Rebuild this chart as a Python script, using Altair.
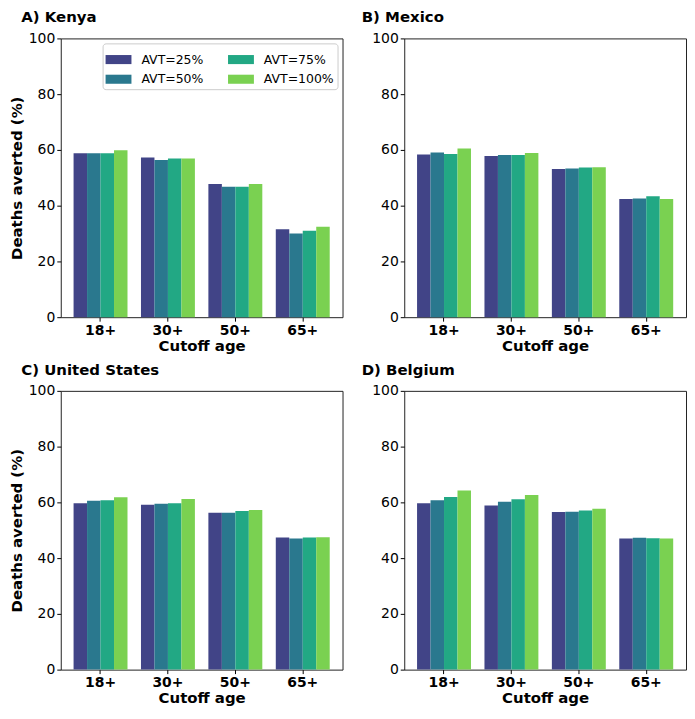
import altair as alt
import pandas as pd

countries = ["A) Kenya", "B) Mexico", "C) United States", "D) Belgium"]
ages = ["18+", "30+", "50+", "65+"]
avts = ["AVT=25%", "AVT=50%", "AVT=75%", "AVT=100%"]
colors = ["#414487", "#2a788e", "#22a884", "#7ad151"]

# values[country][avt] -> list over ages
kenya = {
    "AVT=25%": [58.8, 57.3, 47.8, 31.5],
    "AVT=50%": [58.8, 56.4, 46.8, 30.0],
    "AVT=75%": [58.8, 56.9, 46.8, 31.0],
    "AVT=100%": [59.9, 56.9, 47.8, 32.4],
}
mexico = {
    "AVT=25%": [58.4, 57.8, 53.2, 42.4],
    "AVT=50%": [59.1, 58.2, 53.3, 42.6],
    "AVT=75%": [58.5, 58.2, 53.7, 43.4],
    "AVT=100%": [60.5, 58.9, 53.8, 42.4],
}
usa = {
    "AVT=25%": [59.7, 59.1, 56.3, 47.4],
    "AVT=50%": [60.6, 59.5, 56.3, 47.0],
    "AVT=75%": [60.8, 59.7, 56.9, 47.4],
    "AVT=100%": [61.8, 61.2, 57.3, 47.5],
}
belgium = {
    "AVT=25%": [59.7, 58.9, 56.5, 47.0],
    "AVT=50%": [60.8, 60.2, 56.6, 47.3],
    "AVT=75%": [61.9, 61.1, 57.1, 47.1],
    "AVT=100%": [64.3, 62.6, 57.7, 47.0],
}
all_values = [kenya, mexico, usa, belgium]

FONT = "DejaVu Sans"
W, H = 283, 280


def panel(idx):
    vals = all_values[idx]
    rows = []
    for a in avts:
        for i, g in enumerate(ages):
            rows.append({"age": g, "avt": a, "value": vals[a][i]})
    df = pd.DataFrame(rows)
    left = idx % 2 == 0
    if idx == 0:
        legend = alt.Legend(
            title=None, orient="top-right", offset=5, columns=2,
            symbolType="M-1,-0.35H1V0.35H-1Z", symbolSize=676,
            symbolStrokeWidth=0, symbolOpacity=1,
            labelFont=FONT, labelFontSize=12.5, labelColor="#000",
            columnPadding=24, rowPadding=0, labelOffset=10,
            padding=3, strokeColor="#cccccc", fillColor="white",
            cornerRadius=3,
        )
    else:
        legend = None
    chart = alt.Chart(df).mark_bar().encode(
        x=alt.X("age:N", sort=ages,
                scale=alt.Scale(paddingInner=0.2, paddingOuter=0.19),
                axis=alt.Axis(title="Cutoff age", labelAngle=0,
                              labelFontWeight="bold", labelFontSize=14,
                              labelFont=FONT, labelColor="#000",
                              titleFont=FONT, titleFontSize=15,
                              titleFontWeight="bold", titleColor="#000",
                              titlePadding=1, tickSize=4, tickColor="#000",
                              domain=False, labelPadding=2)),
        xOffset=alt.XOffset("avt:N", sort=avts),
        y=alt.Y("value:Q", scale=alt.Scale(domain=[0, 100], nice=False),
                axis=alt.Axis(title="Deaths averted (%)" if left else None,
                              values=[0, 20, 40, 60, 80, 100], grid=False,
                              labelFont=FONT, labelFontSize=14,
                              labelColor="#000", titleFont=FONT,
                              titleFontSize=15, titleFontWeight="bold",
                              titleColor="#000", tickSize=4,
                              tickColor="#000", domain=False,
                              labelPadding=2, titlePadding=4)),
        color=alt.Color("avt:N",
                        scale=alt.Scale(domain=avts, range=colors),
                        legend=legend),
    ).properties(
        width=W, height=H,
        title=alt.TitleParams(countries[idx], anchor="start", frame="bounds",
                              dx=12 if left else -10,
                              font=FONT, fontSize=15, fontWeight="bold",
                              color="#000", offset=6),
    )
    return chart


row1 = alt.hconcat(panel(0), panel(1), spacing=17).resolve_scale(color="independent").resolve_legend(color="independent")
row2 = alt.hconcat(panel(2), panel(3), spacing=17).resolve_scale(color="independent").resolve_legend(color="independent")
chart = alt.vconcat(row1, row2, spacing=8).resolve_scale(
    color="independent").resolve_legend(color="independent").configure(
    padding=0, background="white"
).configure_view(stroke="#222", strokeWidth=1)

chart.save("out.html", embed_options={"renderer": "svg", "actions": False})
